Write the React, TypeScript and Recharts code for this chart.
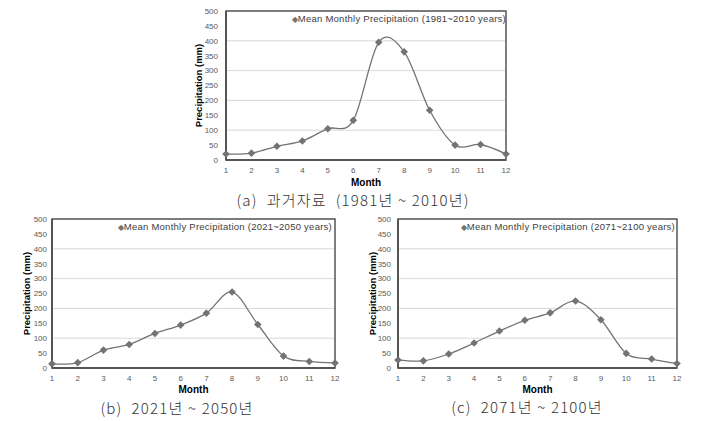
import React from 'react';
import {
  LineChart,
  Line,
  XAxis,
  YAxis,
  CartesianGrid,
  ReferenceArea,
  Legend,
} from 'recharts';

// ---------- data ----------
const months = [1, 2, 3, 4, 5, 6, 7, 8, 9, 10, 11, 12];
const precipPast = [20, 23, 46, 64, 105, 133, 395, 363, 167, 50, 52, 20];
const precip2050 = [14, 18, 60, 79, 116, 144, 184, 255, 146, 40, 22, 17];
const precip2100 = [27, 24, 47, 84, 124, 160, 185, 225, 162, 49, 30, 15];
const yTicks = [0, 50, 100, 150, 200, 250, 300, 350, 400, 450, 500];

const legendPast = 'Mean Monthly Precipitation (1981~2010 years)';
const legend2050 = 'Mean Monthly Precipitation (2021~2050 years)';
const legend2100 = 'Mean Monthly Precipitation (2071~2100 years)';
const captionPast = '(a)  과거자료  (1981년 ~ 2010년)';
const caption2050 = '(b)  2021년 ~ 2050년';
const caption2100 = '(c)  2071년 ~ 2100년';

const toRows = (vals: number[]) => months.map((m, i) => ({ month: m, value: vals[i] }));

// ---------- smooth curve (cardinal, tension 0) ----------
function smoothCurve(context: any) {
  const k = 1 / 6;
  let x0 = NaN, y0 = NaN, x1 = NaN, y1 = NaN, x2 = NaN, y2 = NaN, state = 0;
  const seg = (x: number, y: number) => {
    context.bezierCurveTo(
      x1 + k * (x2 - x0),
      y1 + k * (y2 - y0),
      x2 + k * (x1 - x),
      y2 + k * (y1 - y),
      x2,
      y2
    );
  };
  return {
    areaStart() {},
    areaEnd() {},
    lineStart() {
      x0 = x1 = x2 = y0 = y1 = y2 = NaN;
      state = 0;
    },
    lineEnd() {
      if (state === 2) context.lineTo(x2, y2);
      else if (state === 3) seg(x1, y1);
    },
    point(xIn: number, yIn: number) {
      const x = +xIn, y = +yIn;
      switch (state) {
        case 0:
          state = 1;
          context.moveTo(x, y);
          break;
        case 1:
          state = 2;
          x1 = x;
          y1 = y;
          break;
        case 2:
          state = 3;
          seg(x, y);
          break;
        default:
          seg(x, y);
          break;
      }
      x0 = x1; x1 = x2; x2 = x;
      y0 = y1; y1 = y2; y2 = y;
    },
  };
}

const LINE_COLOR = '#737373';
const FRAME = '#555555';
const TICK_FONT = { fontSize: 8, fill: '#595959', fontFamily: 'Liberation Sans, Arial, sans-serif' };

const Diamond = (props: any) => {
  const { cx, cy, index } = props;
  if (cx == null || cy == null) return <g key={`d-${index}`} />;
  const r = 3.8;
  return (
    <path
      key={`d-${index}`}
      d={`M${cx},${cy - r}L${cx + r},${cy}L${cx},${cy + r}L${cx - r},${cy}Z`}
      fill={LINE_COLOR}
      stroke="none"
    />
  );
};

type PanelProps = {
  values: number[];
  legend: string;
  caption: string;
  left: number;
  top: number;
  width: number;
  height: number;
  margin: { top: number; right: number; left: number; bottom: number };
  yTickMargin: number;
  yLabelOffset: number;
  legendTop: number;
  legendRight: number;
  monthOffset: number;
  captionX: number;
  captionY: number;
};

const Panel = (p: PanelProps) => {
  const data = toRows(p.values);
  return (
    <>
      <div style={{ position: 'absolute', left: p.left, top: p.top }}>
        <LineChart width={p.width} height={p.height} data={data} margin={p.margin}>
          <CartesianGrid horizontal vertical={false} stroke="#d9d9d9" strokeWidth={1} />
          <XAxis
            dataKey="month"
            type="number"
            domain={[1, 12]}
            ticks={months}
            height={30}
            tickLine={false}
            tickSize={4}
            tickMargin={3}
            axisLine={{ stroke: FRAME, strokeWidth: 2 }}
            tick={TICK_FONT}
            label={{
              value: 'Month',
              position: 'insideBottom',
              offset: p.monthOffset,
              style: { fontSize: 10, fontWeight: 'bold', fill: '#000', fontFamily: 'Liberation Sans, Arial, sans-serif' },
            }}
          />
          <YAxis
            type="number"
            domain={[0, 500]}
            ticks={yTicks}
            width={36}
            tickLine={false}
            tickSize={0}
            tickMargin={p.yTickMargin}
            axisLine={{ stroke: FRAME, strokeWidth: 2 }}
            tick={TICK_FONT}
            label={{
              value: 'Precipitation (mm)',
              angle: -90,
              position: 'insideLeft',
              offset: p.yLabelOffset,
              style: { textAnchor: 'middle', fontSize: 9.5, fontWeight: 'bold', fill: '#000', fontFamily: 'Liberation Sans, Arial, sans-serif' },
            }}
          />
          <ReferenceArea x1={1} x2={12} y1={0} y2={500} fill="none" stroke={FRAME} strokeWidth={1.5} ifOverflow="visible" />
          <Legend
            layout="vertical"
            align="center"
            verticalAlign="middle"
            wrapperStyle={{ top: p.legendTop, right: p.legendRight, left: 'auto', width: 'auto', height: 'auto' }}
            content={() => (
              <div
                style={{
                  fontSize: 9.5,
                  fontFamily: 'Liberation Sans, Arial, sans-serif',
                  color: '#404040',
                  whiteSpace: 'nowrap',
                  lineHeight: '12px',
                  letterSpacing: 0.25,
                }}
              >
                <span style={{ color: LINE_COLOR, fontSize: 8 }}>◆</span>
                {p.legend}
              </div>
            )}
          />
          <Line
            type={smoothCurve as any}
            dataKey="value"
            name={p.legend}
            stroke={LINE_COLOR}
            strokeWidth={1.3}
            dot={Diamond}
            activeDot={false}
            isAnimationActive={false}
          />
        </LineChart>
      </div>
      <div
        style={{
          position: 'absolute',
          left: p.captionX - 160,
          top: p.captionY - 10,
          width: 320,
          textAlign: 'center',
          fontSize: 15,
          lineHeight: '20px',
          letterSpacing: 1.2,
          whiteSpace: 'pre',
          color: '#333',
          fontFamily: '"Noto Sans CJK KR", sans-serif',
          fontWeight: 300,
        }}
      >
        {p.caption}
      </div>
    </>
  );
};

export default function App() {
  return (
    <div style={{ position: 'absolute', left: 0, top: 0, width: 703, height: 421, background: '#fff', overflow: 'hidden' }}>
      <Panel
        values={precipPast}
        legend={legendPast}
        caption={captionPast}
        left={190}
        top={0}
        width={330}
        height={190}
        margin={{ top: 11, right: 14, left: 0, bottom: 0 }}
        yTickMargin={8}
        yLabelOffset={9}
        legendTop={13}
        legendRight={14}
        monthOffset={4}
        captionX={353}
        captionY={200}
      />
      <Panel
        values={precip2050}
        legend={legend2050}
        caption={caption2050}
        left={0}
        top={208}
        width={350}
        height={190}
        margin={{ top: 11, right: 15, left: 16, bottom: 0 }}
        yTickMargin={5}
        yLabelOffset={11}
        legendTop={13}
        legendRight={18}
        monthOffset={5}
        captionX={177}
        captionY={408}
      />
      <Panel
        values={precip2100}
        legend={legend2100}
        caption={caption2100}
        left={350}
        top={208}
        width={353}
        height={190}
        margin={{ top: 11, right: 26, left: 12, bottom: 0 }}
        yTickMargin={7}
        yLabelOffset={10.7}
        legendTop={13}
        legendRight={28}
        monthOffset={5}
        captionX={527}
        captionY={407}
      />
    </div>
  );
}
